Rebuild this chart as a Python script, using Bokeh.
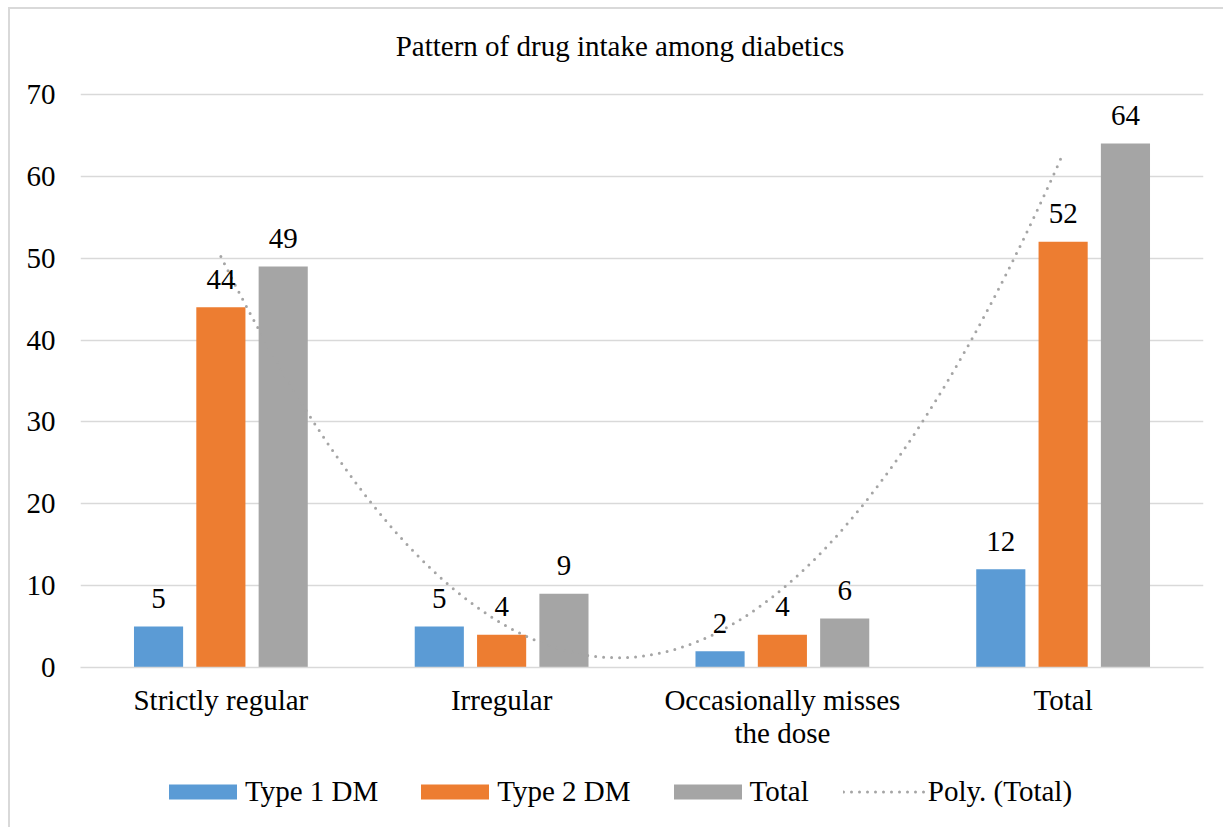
import numpy as np
from bokeh.plotting import figure
from bokeh.layouts import column
from bokeh.models import (ColumnDataSource, Range1d, FixedTicker, LinearAxis,
                          Legend, LegendItem, Label)
from bokeh.core.properties import value
from bokeh.embed import file_html
from bokeh.resources import INLINE

# ---- data -------------------------------------------------------------
categories = ["Strictly regular", "Irregular", "Occasionally misses the dose", "Total"]
type1_dm = [5, 5, 2, 12]
type2_dm = [44, 4, 4, 52]
total = [49, 9, 6, 64]
y_ticks = [0, 10, 20, 30, 40, 50, 60, 70]
series_names = ["Type 1 DM", "Type 2 DM", "Total"]
trend_name = "Poly. (Total)"
title_text = "Pattern of drug intake among diabetics"

# category labels, wrapped over two lines where needed
label_line1 = ["Strictly regular", "Irregular", "Occasionally misses", "Total"]
label_line2 = ["", "", "the dose", ""]

# ---- style ------------------------------------------------------------
FONT = "Liberation Serif"
FS = "29px"
COLORS = ["#5B9BD5", "#ED7D31", "#A5A5A5"]
TREND_COLOR = "#A5A5A5"
GRID = "#D9D9D9"
BAR_W = 0.175
OFFSETS = [-0.222, 0.0, 0.222]
TREND_STYLE = dict(line_color=TREND_COLOR, line_width=3, line_dash="0 8", line_cap="round")

pos = np.arange(1, len(categories) + 1)

# ---- main chart -------------------------------------------------------
# the plot frame reaches the top edge so the title sits inside it;
# the value axis keeps its ticks at 0..70
p = figure(x_range=Range1d(0.5, len(categories) + 0.5), y_range=Range1d(0, 80.38),
           frame_width=1123, frame_height=658, title=None,
           output_backend="svg", toolbar_location=None,
           min_border_left=70, min_border_right=20,
           min_border_top=0, min_border_bottom=100)
p.outline_line_color = None
p.background_fill_color = "white"
p.border_fill_color = "white"

# title
p.add_layout(Label(x=539.5, y=622, x_units="screen", y_units="screen",
                   text=title_text, text_font=FONT, text_font_size=FS,
                   text_color="black", text_align="center",
                   text_baseline="alphabetic"))

# y axis
p.yaxis.ticker = FixedTicker(ticks=y_ticks)
p.yaxis.axis_line_color = None
p.yaxis.major_tick_line_color = None
p.yaxis.minor_tick_line_color = None
p.yaxis.major_tick_out = 0
p.yaxis.major_tick_in = 0
p.yaxis.major_label_standoff = 25
p.yaxis.major_label_text_font = FONT
p.yaxis.major_label_text_font_size = FS
p.yaxis.major_label_text_color = "black"

# x axis: first line of category labels
xa = p.xaxis[0]
xa.ticker = FixedTicker(ticks=list(pos))
xa.major_label_overrides = {int(k): t for k, t in zip(pos, label_line1)}
xa.axis_line_color = GRID
xa.axis_line_width = 1.5
xa.major_tick_line_color = None
xa.minor_tick_line_color = None
xa.major_tick_out = 0
xa.major_tick_in = 0
xa.major_label_standoff = 16
xa.major_label_text_font = FONT
xa.major_label_text_font_size = FS
xa.major_label_text_color = "black"

# x axis: second line of wrapped category labels
wrapped = [int(k) for k, t in zip(pos, label_line2) if t]
xa2 = LinearAxis(ticker=FixedTicker(ticks=wrapped),
                 major_label_overrides={int(k): t for k, t in zip(pos, label_line2) if t},
                 axis_line_color=None, major_tick_line_color=None,
                 minor_tick_line_color=None, major_tick_out=0, major_tick_in=0,
                 major_label_standoff=-2, major_label_text_font=FONT,
                 major_label_text_font_size=FS, major_label_text_color="black")
p.add_layout(xa2, "below")

p.xgrid.grid_line_color = None
p.ygrid.grid_line_color = GRID
p.ygrid.grid_line_width = 1.5

# bars
src = ColumnDataSource(dict(pos=pos, t1=type1_dm, t2=type2_dm, tot=total,
                            l1=[str(v) for v in type1_dm],
                            l2=[str(v) for v in type2_dm],
                            l3=[str(v) for v in total]))
for i, off in enumerate(OFFSETS):
    src.data[f"x{i}"] = pos + off

for i, (col, color) in enumerate(zip(["t1", "t2", "tot"], COLORS)):
    p.vbar(x=f"x{i}", top=col, width=BAR_W, source=src,
           fill_color=color, line_color=None)

# polynomial (order 2) trendline through the Total series
coef = np.polyfit(pos, total, 2)
xs = np.linspace(pos[0], pos[-1], 300)
ys = np.polyval(coef, xs)
p.line(xs, ys, **TREND_STYLE)

# value labels
for i, (col, lab) in enumerate(zip(["t1", "t2", "tot"], ["l1", "l2", "l3"])):
    p.text(x=f"x{i}", y=col, text=lab, source=src,
           text_font=value(FONT), text_font_size=FS, text_color="black",
           text_align="center", text_baseline="alphabetic", y_offset=-28)

# ---- legend strip -----------------------------------------------------
lg = figure(x_range=Range1d(0, 1), y_range=Range1d(0, 1),
            width=1213, height=60, title=None,
            x_axis_type=None, y_axis_type=None,
            output_backend="svg", toolbar_location=None,
            min_border_left=0, min_border_right=0,
            min_border_top=0, min_border_bottom=0)
lg.outline_line_color = None
lg.xgrid.grid_line_color = None
lg.ygrid.grid_line_color = None
lg.background_fill_color = "white"
lg.border_fill_color = "white"

# key glyphs styled like the series above; their single point lies outside
# the strip's ranges, so only the legend swatches show
key_src = ColumnDataSource(dict(x=[-1.0, -1.0], y=[-1.0, -1.0]))
keys = [lg.vbar(x="x", top="y", width=0.1, source=key_src,
                fill_color=c, line_color=None) for c in COLORS]
keys.append(lg.line(x="x", y="y", source=key_src, **TREND_STYLE))

items = [LegendItem(label=n, renderers=[r]) for n, r in zip(series_names + [trend_name], keys)]
legend = Legend(items=items, orientation="horizontal", location=(80, 19),
                glyph_width=85, glyph_height=19, label_standoff=0, spacing=34,
                label_height=30, padding=0, margin=0,
                border_line_color=None, background_fill_alpha=0,
                label_text_font=FONT, label_text_font_size=FS,
                label_text_color="black", label_text_baseline="middle")
lg.add_layout(legend, "center")

page = column(p, lg, spacing=0,
              styles={"margin-left": "8px", "margin-top": "7px",
                      "border-left": "2px solid #D9D9D9", "border-top": "2px solid #D9D9D9"})

open("out.html", "w").write(file_html(page, INLINE))
